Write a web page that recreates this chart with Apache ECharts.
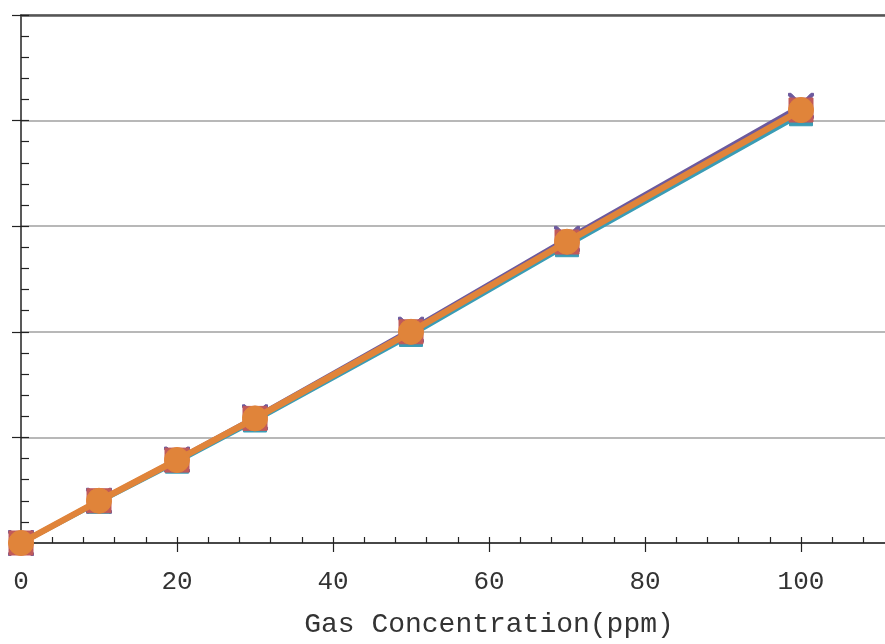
<!DOCTYPE html>
<html>
<head>
<meta charset="utf-8">
<script src="https://cdn.jsdelivr.net/npm/echarts@6/dist/echarts.min.js"></script>
<style>html,body{margin:0;padding:0;background:#fff;overflow:hidden;width:885px;height:644px;}#c{width:960px;height:644px;}</style>
</head>
<body>
<div id="c"></div>
<script>
var concentrations = [0, 10, 20, 30, 50, 70, 100];
var seriesPurple = [0, 0.40, 0.79, 1.19, 2.02, 2.88, 4.14];
var seriesTeal   = [0, 0.39, 0.77, 1.16, 1.97, 2.82, 4.06];
var seriesRed    = [0, 0.40, 0.785, 1.18, 2.00, 2.85, 4.10];
var seriesOrange = [0, 0.40, 0.786, 1.18, 2.00, 2.853, 4.10];
var xTicks = [0, 20, 40, 60, 80, 100];
var xAxisName = 'Gas Concentration(ppm)';

function pairs(ys){ return concentrations.map(function(x,i){ return [x, ys[i]]; }); }

var GRID_H = 528;
var font = '"Liberation Mono", "DejaVu Sans Mono", monospace';
var chart = echarts.init(document.getElementById('c'), null, {renderer:'canvas'});
var xMin = 0, xMax = 120;
function mkSeries(name, ys, color, symbol, size, lw, z){
  return {
    name: name, type: 'line', data: pairs(ys), z: z,
    symbol: symbol, symbolSize: size,
    lineStyle: {color: color, width: lw},
    itemStyle: {color: color, borderColor: color, borderWidth: 1},
    emphasis: {disabled: true}, animation: false
  };
}
chart.setOption({
  animation: false,
  grid: {left: 21, width: 939, top: 15, height: GRID_H, containLabel: false},
  xAxis: [
    {type: 'value', position: 'bottom', min: xMin, max: xMax, interval: 20,
     axisLine: {show: true, lineStyle: {color: '#222', width: 1.5}},
     axisTick: {show: true, inside: true, length: 6, lineStyle: {color: '#222', width: 1.2}},
     minorTick: {show: true, splitNumber: 5, length: 6, lineStyle: {color: '#222', width: 1.2}},
     splitLine: {show: false},
     axisLabel: {show: true, margin: 26, fontFamily: font, fontSize: 26, color: '#333',
       formatter: function(v){ return xTicks.indexOf(v) >= 0 ? String(v) : ''; }},
     name: xAxisName, nameLocation: 'middle', nameGap: 68,
     nameTextStyle: {fontFamily: font, fontSize: 28, color: '#333'}
    },
    {type: 'value', position: 'top', offset: -GRID_H, min: xMin, max: xMax, interval: 20,
     axisLine: {show: false},
     axisTick: {show: true, inside: true, length: 9, lineStyle: {color: '#222', width: 1.2}},
     axisLabel: {show: false}, splitLine: {show: false}
    },
    {type: 'value', position: 'top', min: xMin, max: xMax, interval: 20,
     axisLine: {show: true, lineStyle: {color: '#555', width: 2.5}},
     axisTick: {show: false}, axisLabel: {show: false}, splitLine: {show: false}
    }
  ],
  yAxis: [
    {type: 'value', position: 'left', min: 0, max: 5, interval: 1,
     axisLine: {show: true, lineStyle: {color: '#222', width: 1.5}},
     axisTick: {show: true, inside: true, length: 8, lineStyle: {color: '#222', width: 1.2}},
     minorTick: {show: true, splitNumber: 5, length: 8, lineStyle: {color: '#222', width: 1.2}},
     axisLabel: {show: false},
     splitLine: {show: true, lineStyle: {color: '#a0a0a0', width: 1.5}}
    },
    {type: 'value', position: 'left', min: 0, max: 5, interval: 1,
     axisLine: {show: false},
     axisTick: {show: true, inside: false, length: 9, lineStyle: {color: '#222', width: 1.2}},
     axisLabel: {show: false}, splitLine: {show: false}
    }
  ],
  series: [
    mkSeries('S1', seriesPurple, '#6C5A9E', 'path://M0,0 L2,0 L10,8 L18,0 L20,0 L20,2 L12,10 L20,18 L20,20 L18,20 L10,12 L2,20 L0,20 L0,18 L8,10 L0,2 Z', 25, 5, 2),
    mkSeries('S2', seriesTeal, '#3A9CB5', 'rect', 23, 5, 3),
    mkSeries('S3', seriesRed, '#C05A5A', 'rect', 24, 5, 4),
    mkSeries('S4', seriesOrange, '#E0843A', 'circle', 25, 6.5, 5)
  ]
});
</script>
</body>
</html>
